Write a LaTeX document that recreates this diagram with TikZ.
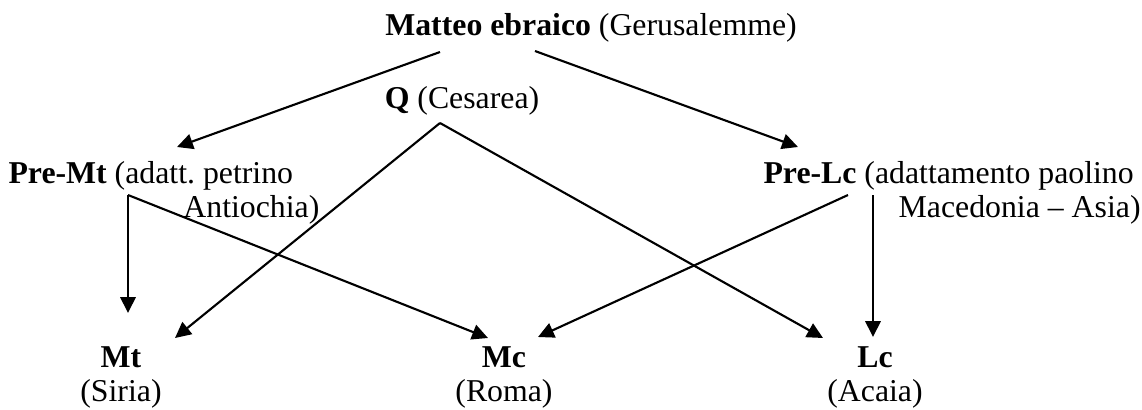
\documentclass[tikz,border=0pt]{standalone}
\usepackage{fontspec}
\setmainfont{Liberation Serif}
\usetikzlibrary{arrows.meta, calc}
\frenchspacing

\begin{document}
\begin{tikzpicture}[x=0.3774pt, y=-0.3774pt, font=\fontsize{12}{12.9}\selectfont,
  every node/.style={inner sep=0pt},
  link/.style={-{Triangle[length=6pt, width=5.8pt]}, line width=0.8pt}]
\useasboundingbox (0,0) rectangle (1142,409);
% sources
\node (me) [anchor=base] at (591,35) {\textbf{Matteo ebraico} (Gerusalemme)};
\node (q) [anchor=base] at (462,108) {\textbf{Q} (Cesarea)};
\node (premt) [anchor=base west] at (8,183)
  {\begin{tabular}[t]{@{}l@{}}\textbf{Pre-Mt} (adatt. petrino\\\hspace*{66pt}Antiochia)\end{tabular}};
\node (prelc) [anchor=base west] at (763,183)
  {\begin{tabular}[t]{@{}l@{}}\textbf{Pre-Lc} (adattamento paolino\\\hspace*{51pt}Macedonia \textendash{} Asia)\end{tabular}};
% gospels
\node (mt) [anchor=base] at (121,367) {\begin{tabular}[t]{@{}c@{}}\textbf{Mt}\\(Siria)\end{tabular}};
\node (mc) [anchor=base] at (504,367) {\begin{tabular}[t]{@{}c@{}}\textbf{Mc}\\(Roma)\end{tabular}};
\node (lc) [anchor=base] at (875,367) {\begin{tabular}[t]{@{}c@{}}\textbf{Lc}\\(Acaia)\end{tabular}};
% links
\draw [link] ($(me.base)+(-151,17)$) -- ($(premt.base west)+(169,-36)$);
\draw [link] ($(me.base)+(-56,16)$) -- ($(prelc.base west)+(35,-36)$);
\draw [link] ($(q.base)+(-22,15)$) -- ($(mt.base)+(54,-29)$);
\draw [link] ($(q.base)+(-22,15)$) -- ($(lc.base)+(-52,-29)$);
\draw [link] ($(premt.base west)+(120,12)$) -- ($(mt.base)+(7,-54)$);
\draw [link] ($(premt.base west)+(120,12)$) -- ($(mc.base)+(-16,-29)$);
\draw [link] ($(prelc.base west)+(85,12)$) -- ($(mc.base)+(34,-30)$);
\draw [link] ($(prelc.base west)+(110,12)$) -- ($(lc.base)+(-2,-30)$);
\end{tikzpicture}
\end{document}
